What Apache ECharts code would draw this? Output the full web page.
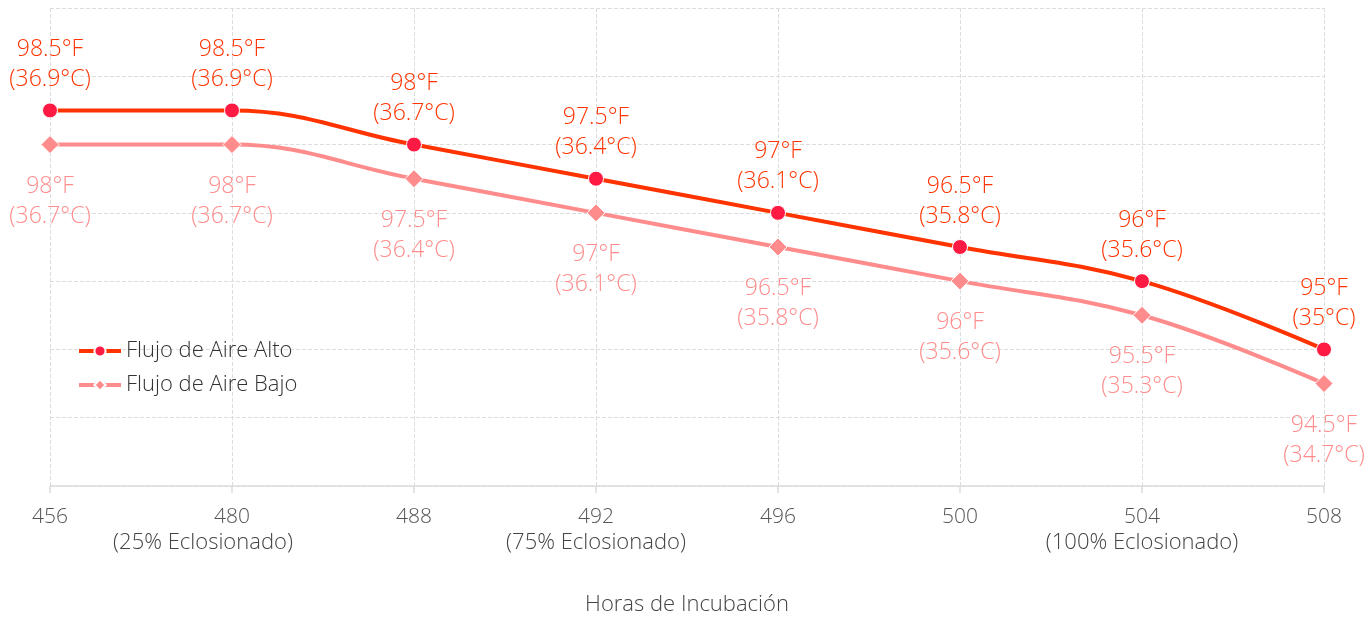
<!DOCTYPE html>
<html>
<head>
<meta charset="utf-8">
<script src="https://cdn.jsdelivr.net/npm/echarts@6/dist/echarts.min.js"></script>
<style>
  html, body { margin: 0; padding: 0; background: #fff; }
  #chart { width: 1369px; height: 617px; }
</style>
</head>
<body>
<div id="chart"></div>
<script>
// Incubation hours (x categories) and their hatch-stage notes
const hours = ['456', '480', '488', '492', '496', '500', '504', '508'];
const stages = ['', '(25% Eclosionado)', '', '(75% Eclosionado)', '', '', '(100% Eclosionado)', ''];

// Temperatures in °F and the matching °C shown in labels
const highF = [98.5, 98.5, 98, 97.5, 97, 96.5, 96, 95];
const highC = [36.9, 36.9, 36.7, 36.4, 36.1, 35.8, 35.6, 35];
const lowF = [98, 98, 97.5, 97, 96.5, 96, 95.5, 94.5];
const lowC = [36.7, 36.7, 36.4, 36.1, 35.8, 35.6, 35.3, 34.7];

const FONT = '"Open Sans", "Noto Sans", sans-serif';
const HIGH_LINE = '#ff3300';
const HIGH_DOT = '#ff1a44';
const LOW = '#ff8c8c';

const chart = echarts.init(document.getElementById('chart'), null, { renderer: 'canvas' });

function fmt(cArr) {
  return p => p.value + '°F\n(' + cArr[p.dataIndex] + '°C)';
}

chart.setOption({
  animation: false,
  textStyle: { fontFamily: FONT, fontWeight: 300 },
  grid: { left: 50, right: 45, top: 8, bottom: 131, containLabel: false, outerBoundsMode: 'none' },
  legend: {
    orient: 'vertical',
    left: 72,
    top: 335,
    itemWidth: 42,
    itemHeight: 14,
    itemGap: 12,
    lineStyle: { width: 4 },
    textStyle: { fontFamily: FONT, fontWeight: 300, fontSize: 22, lineHeight: 22, color: '#333' },
    data: ['Flujo de Aire Alto', 'Flujo de Aire Bajo']
  },
  xAxis: {
    type: 'category',
    data: hours,
    boundaryGap: false,
    name: 'Horas de Incubación',
    nameLocation: 'middle',
    nameGap: 108,
    nameTextStyle: { fontFamily: FONT, fontWeight: 300, fontSize: 22, color: '#444' },
    axisLine: { lineStyle: { color: '#dcdcdc', width: 1.5 } },
    axisTick: { show: true, length: 7, lineStyle: { color: '#dcdcdc', width: 1.5 } },
    splitLine: { show: true, lineStyle: { color: '#dcdcdc', type: 'dashed', width: 1 } },
    axisLabel: {
      interval: 0,
      margin: 19,
      fontFamily: FONT,
      fontWeight: 300,
      fontSize: 21,
      lineHeight: 25,
      color: '#555',
      // the first hatch note sits a little left of its tick
      formatter: (v, i) => stages[i] ? v + '\n{' + (i === 1 ? 'sl' : 's') + '|' + stages[i] + '}' : v,
      rich: {
        s: { fontFamily: FONT, fontWeight: 300, fontSize: 22, lineHeight: 25, color: '#444' },
        sl: { fontFamily: FONT, fontWeight: 300, fontSize: 22, lineHeight: 25, color: '#444', padding: [0, 58, 0, 0] }
      }
    }
  },
  yAxis: {
    type: 'value',
    min: 93,
    max: 100,
    interval: 1,
    axisLine: { show: false },
    axisTick: { show: false },
    axisLabel: { show: false },
    splitLine: { show: true, lineStyle: { color: '#dcdcdc', type: 'dashed', width: 1 } }
  },
  series: [
    {
      name: 'Flujo de Aire Alto',
      type: 'line',
      data: highF,
      smooth: 0.4,
      symbol: 'circle',
      symbolSize: 15,
      lineStyle: { color: HIGH_LINE, width: 4 },
      itemStyle: { color: HIGH_DOT, borderColor: '#fff', borderWidth: 1 },
      label: {
        show: true,
        position: 'top',
        distance: 8,
        formatter: fmt(highC),
        fontFamily: FONT,
        fontWeight: 300,
        fontSize: 23,
        lineHeight: 30,
        color: HIGH_LINE
      },
      z: 3
    },
    {
      name: 'Flujo de Aire Bajo',
      type: 'line',
      data: lowF,
      smooth: 0.4,
      symbol: 'diamond',
      symbolSize: 18,
      lineStyle: { color: LOW, width: 4 },
      itemStyle: { color: LOW, borderColor: '#fff', borderWidth: 1 },
      label: {
        show: true,
        position: 'bottom',
        distance: 17,
        formatter: fmt(lowC),
        fontFamily: FONT,
        fontWeight: 300,
        fontSize: 23,
        lineHeight: 30,
        color: LOW
      },
      z: 2
    }
  ]
});
</script>
</body>
</html>
